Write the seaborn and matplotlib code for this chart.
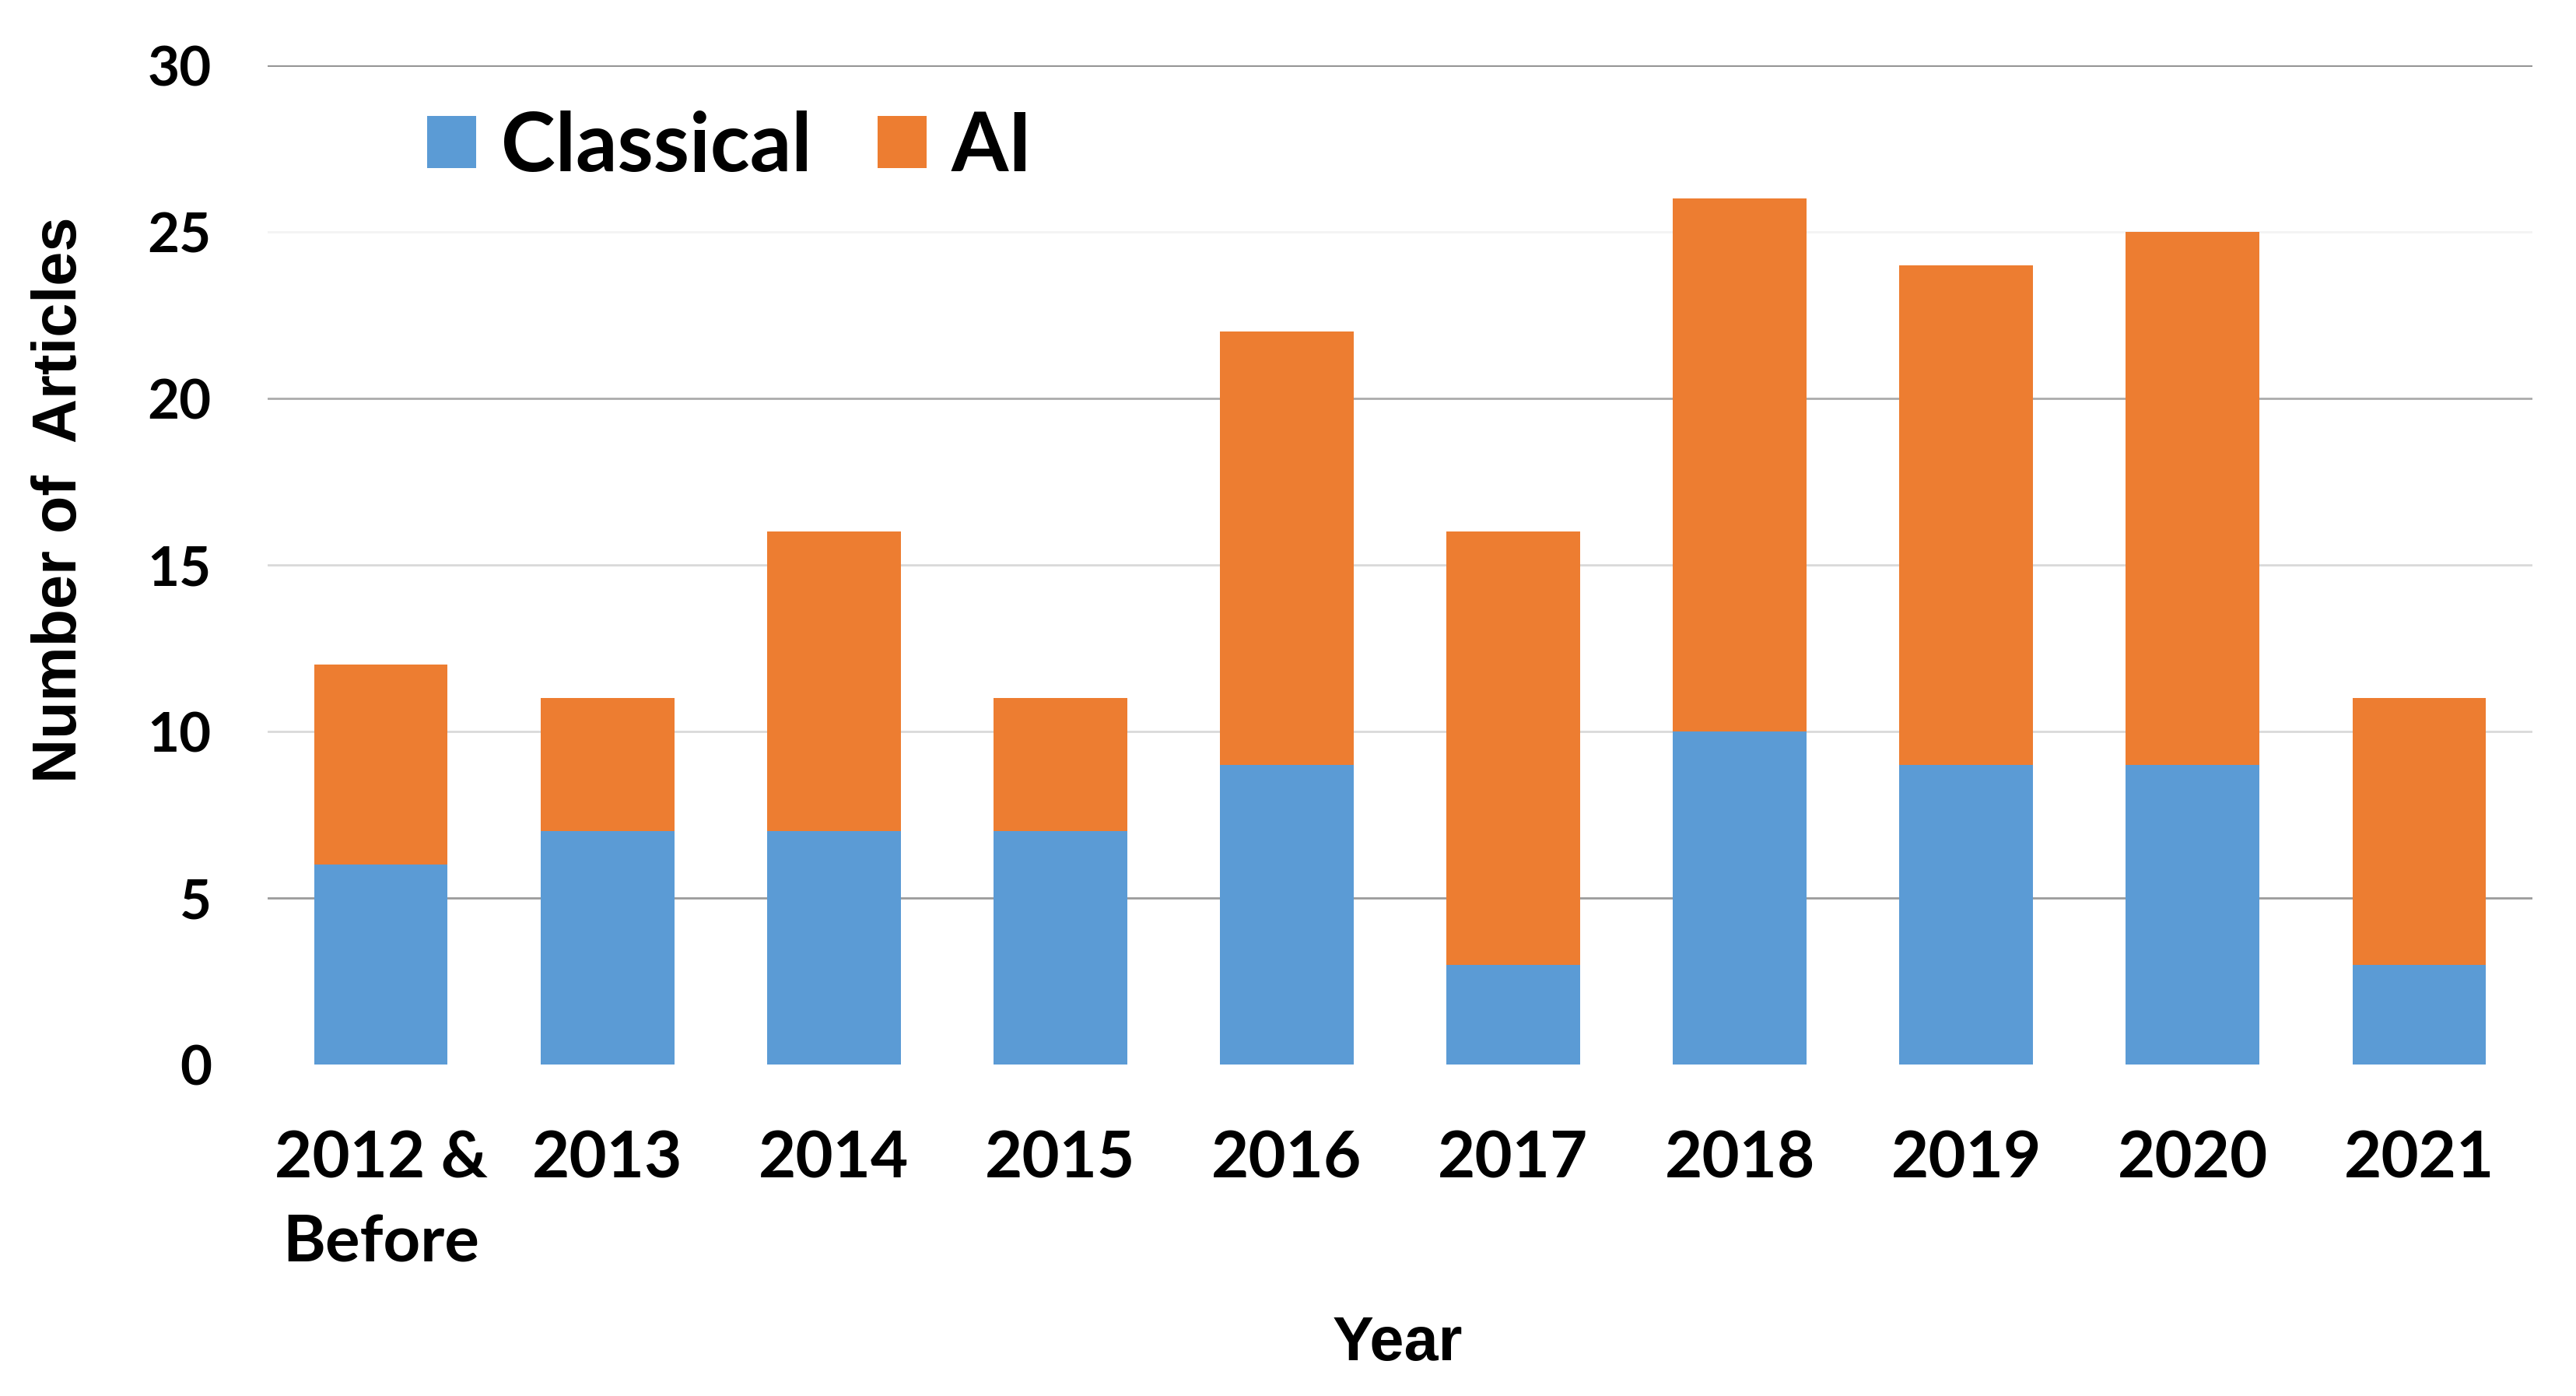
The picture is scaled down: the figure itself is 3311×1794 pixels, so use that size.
import matplotlib
matplotlib.use("Agg")
import matplotlib.pyplot as plt
import seaborn as sns
import pandas as pd
from matplotlib.patches import Patch

# ---- data ----
categories = ["2012 &\nBefore", "2013", "2014", "2015", "2016",
              "2017", "2018", "2019", "2020", "2021"]
classical = [6, 7, 7, 7, 9, 3, 10, 9, 9, 3]
ai = [6, 4, 9, 4, 13, 13, 16, 15, 16, 8]
y_ticks = [0, 5, 10, 15, 20, 25, 30]
series_names = ["Classical", "AI"]

# ---- style ----
BLUE = "#5B9BD5"
ORANGE = "#ED7D31"
grid_colors = {0: "none", 5: "#9c9c9c", 10: "#d9d9d9", 15: "#d9d9d9",
               20: "#ababab", 25: "#f3f3f3", 30: "#8e8e8e"}
TICK_FONT = ["Lato", "DejaVu Sans"]
LABEL_FONT = ["Liberation Sans", "DejaVu Sans"]

sns.set_theme(style="white")
plt.rcParams["font.family"] = TICK_FONT
plt.rcParams["text.color"] = "black"

df = pd.DataFrame({"Year": categories, "Classical": classical, "AI": ai})
df["Total"] = df["Classical"] + df["AI"]

fig = plt.figure(figsize=(33.12, 17.94), dpi=100)
ax = fig.add_axes([0.10386, 0.23746, 0.87893, 0.71572])

sns.barplot(data=df, x="Year", y="Total", color=ORANGE, saturation=1,
            width=0.59, ax=ax, zorder=3, linewidth=0)
sns.barplot(data=df, x="Year", y="Classical", color=BLUE, saturation=1,
            width=0.59, ax=ax, zorder=4, linewidth=0)

ax.set_xlim(-0.5, len(categories) - 0.5)
ax.set_ylim(0, 30)
ax.set_yticks(y_ticks)
for t in y_ticks:
    c = grid_colors[t]
    if c != "none":
        ax.axhline(t, color=c, lw=2.0, zorder=1)

for s in ax.spines.values():
    s.set_visible(False)

ax.tick_params(axis="both", length=0)
ax.tick_params(axis="y", pad=52)
ax.tick_params(axis="x", pad=61)
for lab in ax.get_yticklabels():
    lab.set_fontsize(51)
    lab.set_fontweight("bold")
    lab.set_color("black")
for lab in ax.get_xticklabels():
    lab.set_fontsize(60)
    lab.set_fontweight("bold")
    lab.set_color("black")
    lab.set_linespacing(1.53)

ax.set_xlabel("Year", fontsize=57, fontweight="bold", family=LABEL_FONT,
              color="black", va="center")
ax.xaxis.set_label_coords(0.4988, -0.2796)
ax.set_ylabel("Number of  Articles", fontsize=57, fontweight="bold",
              family=LABEL_FONT, color="black", va="center")
ax.yaxis.set_label_coords(-0.0914, 0.565)

handles = [Patch(facecolor=BLUE, edgecolor="none"),
           Patch(facecolor=ORANGE, edgecolor="none")]
leg = ax.legend(handles, series_names, loc="center left",
                bbox_to_anchor=(0.0704, 0.9174), ncol=2, frameon=False,
                borderaxespad=0, borderpad=0,
                prop={"family": TICK_FONT, "weight": "bold", "size": 76},
                handlelength=0.6, handleheight=0.6, handletextpad=0.3,
                columnspacing=0.8, labelcolor="black")

fig.savefig("out.png", dpi=100, facecolor="white")
